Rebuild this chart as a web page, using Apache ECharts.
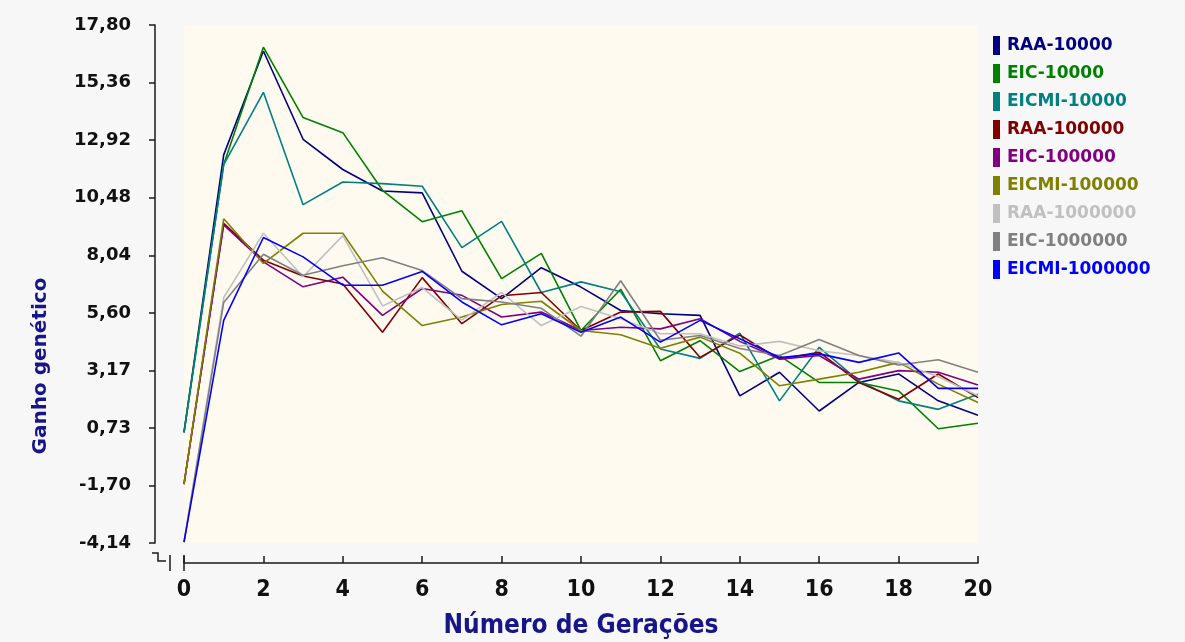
<!DOCTYPE html>
<html>
<head>
<meta charset="utf-8">
<title>Ganho genético por geração</title>
<script src="https://cdn.jsdelivr.net/npm/echarts@6/dist/echarts.min.js"></script>
<style>
  html, body { margin: 0; padding: 0; background: #f7f7f7; }
  #chart { width: 1185px; height: 642px; }
</style>
</head>
<body>
<div id="chart"></div>
<script>
// Generations on the horizontal axis
const generations = [0, 1, 2, 3, 4, 5, 6, 7, 8, 9, 10, 11, 12, 13, 14, 15, 16, 17, 18, 19, 20];

// Tick values shown on the vertical axis
const yTicks = [-4.14, -1.70, 0.73, 3.17, 5.60, 8.04, 10.48, 12.92, 15.36, 17.80];

// Genetic gain per generation, one array per strategy / population size
const raa10000    = [0.55, 12.30, 16.70, 12.96, 11.68, 10.77, 10.69, 7.37, 6.21, 7.52, 6.70, 5.71, 5.57, 5.50, 2.09, 3.09, 1.45, 2.66, 3.02, 1.88, 1.27];
const eic10000    = [0.55, 11.89, 16.86, 13.88, 13.24, 10.80, 9.47, 9.93, 7.06, 8.13, 4.86, 6.61, 3.58, 4.43, 3.12, 3.80, 2.66, 2.66, 2.30, 0.70, 0.93];
const eicmi10000  = [0.55, 11.89, 14.95, 10.19, 11.15, 11.08, 10.97, 8.37, 9.48, 6.47, 6.92, 6.50, 4.08, 3.68, 4.75, 1.88, 4.15, 2.73, 1.88, 1.52, 2.16];
const raa100000   = [-1.65, 9.40, 7.84, 7.17, 6.83, 4.79, 7.10, 5.15, 6.33, 6.47, 4.86, 5.64, 5.67, 3.72, 4.67, 3.65, 3.94, 2.66, 1.95, 3.02, 2.02];
const eic100000   = [-1.65, 9.33, 7.77, 6.71, 7.12, 5.50, 6.64, 6.35, 5.43, 5.64, 4.86, 5.00, 4.93, 5.36, 4.40, 3.65, 3.80, 2.80, 3.16, 3.09, 2.55];
const eicmi100000 = [-1.65, 9.59, 7.70, 8.98, 8.98, 6.53, 5.07, 5.43, 5.96, 6.10, 4.86, 4.68, 4.11, 4.58, 3.90, 2.52, 2.80, 3.09, 3.51, 2.59, 1.81];
const raa1000000  = [-4.10, 6.25, 8.98, 7.14, 8.88, 5.90, 6.68, 5.30, 6.47, 5.07, 5.88, 5.36, 4.72, 4.72, 4.20, 4.40, 4.00, 3.80, 3.50, 2.90, 2.10];
const eic1000000  = [-4.10, 6.05, 8.09, 7.20, 7.60, 7.94, 7.40, 6.21, 6.07, 5.80, 4.62, 6.97, 4.45, 4.65, 4.10, 3.80, 4.48, 3.80, 3.40, 3.62, 3.09];
const eicmi1000000= [-4.10, 5.29, 8.80, 7.98, 6.78, 6.78, 7.36, 6.07, 5.10, 5.57, 4.79, 5.43, 4.37, 5.29, 4.51, 3.72, 3.87, 3.51, 3.91, 2.41, 2.41];

const seriesNames = ['RAA-10000', 'EIC-10000', 'EICMI-10000', 'RAA-100000', 'EIC-100000',
                     'EICMI-100000', 'RAA-1000000', 'EIC-1000000', 'EICMI-1000000'];
const seriesValues = [raa10000, eic10000, eicmi10000, raa100000, eic100000,
                      eicmi100000, raa1000000, eic1000000, eicmi1000000];
const seriesColors = ['#000080', '#008000', '#008080', '#800000', '#800080',
                      '#808000', '#c0c0c0', '#808080', '#0000ff'];

const boldFont = 'DejaVu Sans';
const narrowFont = "'Liberation Sans Narrow', 'DejaVu Sans Condensed', sans-serif";
const titleColor = '#16168a';

const chart = echarts.init(document.getElementById('chart'), null, { renderer: 'canvas' });

const series = seriesNames.map((name, k) => ({
  name: name,
  type: 'line',
  data: generations.map((g, i) => [g, seriesValues[k][i]]),
  showSymbol: false,
  symbol: 'none',
  lineStyle: { color: seriesColors[k], width: 1.6 },
  itemStyle: { color: seriesColors[k] },
  emphasis: { disabled: true },
  animation: false
}));

const axisInk = '#1a1a1a';

chart.setOption({
  backgroundColor: '#f7f7f7',
  animation: false,
  grid: {
    left: 184, right: 207, top: 25, bottom: 99,
    outerBoundsMode: 'none',
    containLabel: false,
    show: true, backgroundColor: '#fffaf0', borderWidth: 0
  },
  legend: {
    orient: 'vertical',
    left: 988, top: 31,
    icon: 'rect',
    itemWidth: 7, itemHeight: 19, itemGap: 9,
    selectedMode: false,
    data: seriesNames.map((n, k) => ({
      name: n,
      textStyle: { color: seriesColors[k], fontFamily: boldFont, fontWeight: 'bold', fontSize: 17 }
    })),
    textStyle: { fontFamily: boldFont, fontWeight: 'bold', fontSize: 17, padding: [0, 0, 0, 2] }
  },
  xAxis: {
    type: 'value',
    min: 0, max: 20, interval: 2,
    offset: 20,
    name: 'Número de Gerações',
    nameLocation: 'middle',
    nameGap: 50,
    nameTextStyle: { color: titleColor, fontFamily: narrowFont, fontWeight: 'bold', fontSize: 26 },
    axisLine: { show: true, onZero: false, lineStyle: { color: axisInk, width: 1.5 } },
    axisTick: { show: true, inside: true, length: 7, lineStyle: { color: axisInk, width: 1.5 } },
    axisLabel: { color: '#111', fontFamily: narrowFont, fontWeight: 'bold', fontSize: 23, margin: 16 },
    splitLine: { show: false }
  },
  yAxis: {
    type: 'value',
    min: yTicks[0], max: yTicks[yTicks.length - 1],
    offset: 29,
    axisLine: { show: true, onZero: false, lineStyle: { color: axisInk, width: 1.5 } },
    axisTick: { show: true, inside: false, length: 6, customValues: yTicks, lineStyle: { color: axisInk, width: 1.5 } },
    axisLabel: {
      customValues: yTicks,
      color: '#111', fontFamily: boldFont, fontWeight: 'bold', fontSize: 18, margin: 24,
      formatter: v => v.toFixed(2).replace('.', ',')
    },
    splitLine: { show: false }
  },
  graphic: [
    {
      type: 'text',
      x: 41, y: 366,
      rotation: Math.PI / 2,
      style: {
        text: 'Ganho genético',
        fill: titleColor,
        font: 'bold 20px "DejaVu Sans"',
        align: 'center',
        verticalAlign: 'middle'
      }
    },
    // axis break marks at the lower-left corner
    {
      type: 'polyline',
      shape: { points: [[152, 553], [158, 553], [158, 561], [166, 561]] },
      style: { stroke: axisInk, lineWidth: 1.5, fill: null }
    },
    {
      type: 'line',
      shape: { x1: 170, y1: 555, x2: 170, y2: 571 },
      style: { stroke: axisInk, lineWidth: 1.5 }
    },
    {
      type: 'line',
      shape: { x1: 184, y1: 555, x2: 184, y2: 571 },
      style: { stroke: axisInk, lineWidth: 1.5 }
    }
  ],
  series: series
});
</script>
</body>
</html>
